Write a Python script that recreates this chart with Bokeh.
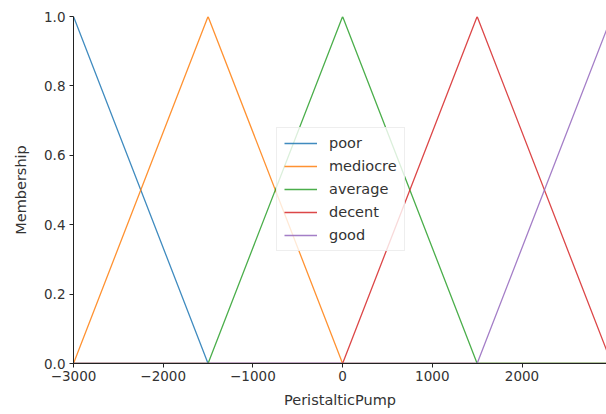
from bokeh.plotting import figure
from bokeh.models import Range1d, Legend, LegendItem, FixedTicker
from bokeh.embed import file_html
from bokeh.resources import INLINE

# Membership functions (breakpoints on the universe)
x_points = [-3000, -1500, 0, 1500, 3000]
poor = [1.0, 0.0, 0.0, 0.0, 0.0]
mediocre = [0.0, 1.0, 0.0, 0.0, 0.0]
average = [0.0, 0.0, 1.0, 0.0, 0.0]
decent = [0.0, 0.0, 0.0, 1.0, 0.0]
good = [0.0, 0.0, 0.0, 0.0, 1.0]
labels = ["poor", "mediocre", "average", "decent", "good"]
colors = ["#1f77b4", "#ff7f0e", "#2ca02c", "#d62728", "#9467bd"]
x_ticks = [-3000, -2000, -1000, 0, 1000, 2000]
y_ticks = [0.0, 0.2, 0.4, 0.6, 0.8, 1.0]

p = figure(width=606, height=414, output_backend="svg", toolbar_location=None,
           x_range=Range1d(-3000, 2942), y_range=Range1d(0, 1.0),
           min_border_left=73, min_border_right=0, min_border_top=16, min_border_bottom=51)
p.outline_line_color = None
p.xgrid.visible = False
p.ygrid.visible = False

items = []
for lab, ys, c in zip(labels, [poor, mediocre, average, decent, good], colors):
    r = p.line(x_points, ys, line_color=c, line_width=1.3, line_alpha=0.85)
    items.append(LegendItem(label=lab, renderers=[r]))

legend = Legend(items=items, location=(203, 112), label_text_font="DejaVu Sans",
                label_text_font_size="14.5px", label_text_color="#333333",
                border_line_color="#dddddd", border_line_width=1,
                background_fill_alpha=0.8, glyph_width=33, glyph_height=14,
                spacing=7, padding=7, margin=0, label_standoff=12, label_height=14)
p.add_layout(legend, "center")

for ax in (p.xaxis[0], p.yaxis[0]):
    ax.axis_line_color = "#222222"
    ax.major_tick_line_color = "#222222"
    ax.minor_tick_line_color = None
    ax.major_tick_out = 4
    ax.major_tick_in = 0
    ax.major_label_text_font = "DejaVu Sans"
    ax.major_label_text_font_size = "13.5px"
    ax.major_label_text_color = "#333333"
    ax.axis_label_text_font = "DejaVu Sans"
    ax.axis_label_text_font_size = "14.5px"
    ax.axis_label_text_font_style = "normal"
    ax.axis_label_text_color = "#333333"

p.xaxis.ticker = FixedTicker(ticks=x_ticks)
p.yaxis.ticker = FixedTicker(ticks=y_ticks)
p.xaxis.major_label_overrides = {t: ("\u2212" + str(-t) if t < 0 else str(t)) for t in x_ticks}
p.yaxis.major_label_overrides = {t: f"{t:.1f}" for t in y_ticks}
p.xaxis.axis_label = "PeristalticPump"
p.yaxis.axis_label = "Membership"
p.xaxis.axis_label_standoff = 8
p.yaxis.axis_label_standoff = 12
p.xaxis.major_label_standoff = 3
p.yaxis.major_label_standoff = 4

open("out.html", "w").write(file_html(p, INLINE))
